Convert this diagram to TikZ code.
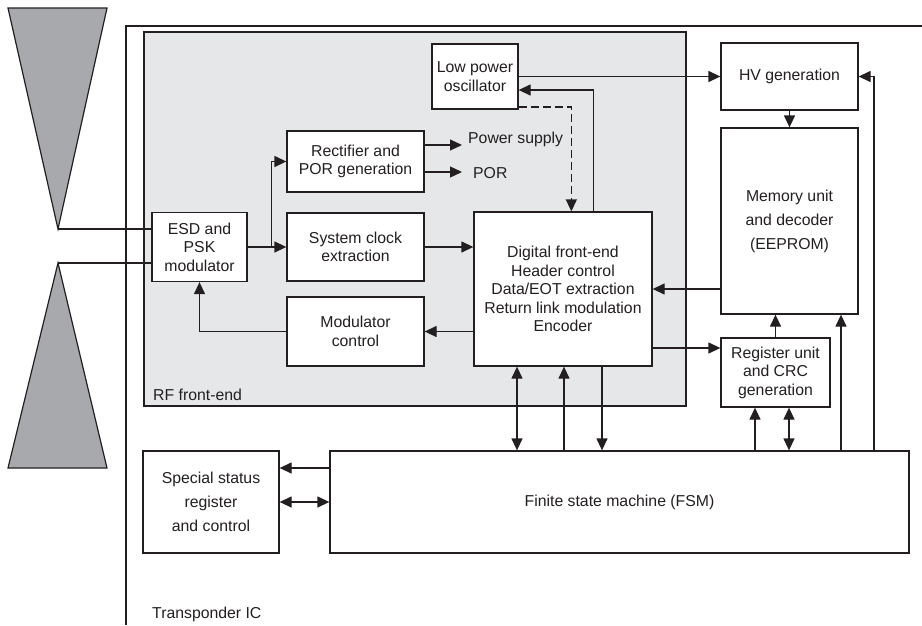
\documentclass[tikz,border=0pt]{standalone}
\usepackage{fontspec}
\setmainfont{Liberation Sans}
\usetikzlibrary{arrows.meta,calc}
\definecolor{panelgrey}{RGB}{230,231,232}
\definecolor{antgrey}{RGB}{167,169,172}
\definecolor{inkc}{RGB}{35,31,32}
\begin{document}
\begin{tikzpicture}[x=1pt,y=-1pt,
  every node/.style={font=\fontsize{15.8}{18.5}\selectfont, text=inkc},
  box/.style={draw=inkc, line width=1.3pt, fill=white, inner sep=0pt, align=center},
  widebox/.style={box, font=\fontsize{15.8}{24}\selectfont},
  lbl/.style={inner sep=0pt},
  conn/.style={draw=inkc, line width=1.3pt},
  arr/.style={conn, -{Triangle[length=12pt,width=11pt]}},
  darr/.style={conn, {Triangle[length=12pt,width=11pt]}-{Triangle[length=12pt,width=11pt]}},
  dashline/.style={dash pattern=on 8pt off 4pt}]
\useasboundingbox (0,0) rectangle (922,625);

% antenna
\fill[antgrey, draw=inkc, line width=1.2pt] (8,8) -- (107,8) -- (58,229) -- cycle;
\fill[antgrey, draw=inkc, line width=1.2pt] (58,263) -- (107,468) -- (8,468) -- cycle;
\coordinate (a1) at (58,229);
\coordinate (a2) at (58,263);

% transponder IC frame
\draw[draw=inkc, line width=1.3pt] (922,26) -- (126,26) -- (126,625);
\node[lbl, anchor=west] (tlabel) at (152,614) {Transponder IC};

% RF front-end panel
\draw[draw=inkc, line width=1.3pt, fill=panelgrey] (144,32) rectangle (686,406);
\node[lbl, anchor=west] (rflabel) at (153,395) {RF front-end};

% blocks
\node[box, minimum width=95pt, minimum height=69pt] (esd) at (199.5,247) {ESD and\\PSK\\modulator};
\node[box, minimum width=137pt, minimum height=61pt] (rect) at (355.5,161.5) {Rectifier and\\POR generation};
\node[box, minimum width=137pt, minimum height=68pt] (sysclk) at (355.5,247) {System clock\\extraction};
\node[box, minimum width=137pt, minimum height=69pt] (modc) at (355.5,331.5) {Modulator\\control};
\node[box, minimum width=86pt, minimum height=65pt] (lpo) at (475,76.5) {Low power\\oscillator};
\node[box, minimum width=178pt, minimum height=154pt] (dig) at (563,289)
  {Digital front-end\\Header control\\Data/EOT extraction\\Return link modulation\\Encoder};
\node[box, minimum width=137pt, minimum height=67pt] (hv) at (789.5,76.5) {HV generation};
\node[widebox, minimum width=137pt, minimum height=186pt] (mem) at (789.5,221) {Memory unit\\and decoder\\(EEPROM)};
\node[box, minimum width=109pt, minimum height=69pt] (reg) at (775.5,372.5) {Register unit\\and CRC\\generation};
\node[box, minimum width=579pt, minimum height=102pt] (fsm) at (619.5,502) {Finite state machine (FSM)};
\node[widebox, minimum width=136pt, minimum height=102pt] (sss) at (211,502) {Special status\\register\\and control};

% free labels
\node[lbl, anchor=west] (ps) at (468,139) {Power supply};
\node[lbl, anchor=west] (por) at (473,173) {POR};
\coordinate (psend) at (462,145);
\coordinate (porend) at (462,172);

% antenna feed
\draw[conn] (a1) -- (a1 -| esd.west);
\draw[conn] (a2) -- (a2 -| esd.west);

% RF front-end connectors
\coordinate (split) at ($(esd.east)+(24,0)$);
\draw[arr] (esd.east) -- (sysclk.west);
\draw[arr] (split) |- (rect.west);
\draw[arr] (rect.east |- psend) -- (psend);
\draw[arr] (rect.east |- porend) -- (porend);
\draw[arr] (sysclk.east) -- (sysclk.east -| dig.west);
\draw[arr] (modc.east -| dig.west) -- (modc.east);
\draw[arr] (modc.west) -| (esd.south);
\draw[arr, dashline] (lpo.south east |- 0,107) -| ($(dig.north west)+(98,0)$);
\draw[arr] ($(dig.north west)+(120,0)$) |- (lpo.east |- 0,90);
\draw[arr] (lpo.east) -- (hv.west);

% memory side
\draw[arr] (hv.south) -- (mem.north);
\draw[arr] (dig.east -| mem.west) -- (dig.east);
\draw[arr] (dig.east |- 0,348) -- (reg.west |- 0,348);
\draw[arr] (reg.north) -- (reg.north |- mem.south);
\draw[arr] (fsm.north -| 841,0) -- (mem.south -| 841,0);
\draw[arr] (fsm.north -| 874,0) |- (hv.east);
\draw[arr] (fsm.north -| 755,0) -- (reg.south -| 755,0);
\draw[darr] (fsm.north -| 789,0) -- (reg.south -| 789,0);

% digital <-> FSM
\draw[darr] (dig.south -| 517,0) -- (fsm.north -| 517,0);
\draw[arr] (fsm.north -| 564,0) -- (dig.south -| 564,0);
\draw[arr] (dig.south -| 602,0) -- (fsm.north -| 602,0);

% FSM <-> special status
\draw[arr] (fsm.west |- 0,468) -- (sss.east |- 0,468);
\draw[darr] (fsm.west) -- (sss.east);
\end{tikzpicture}
\end{document}
